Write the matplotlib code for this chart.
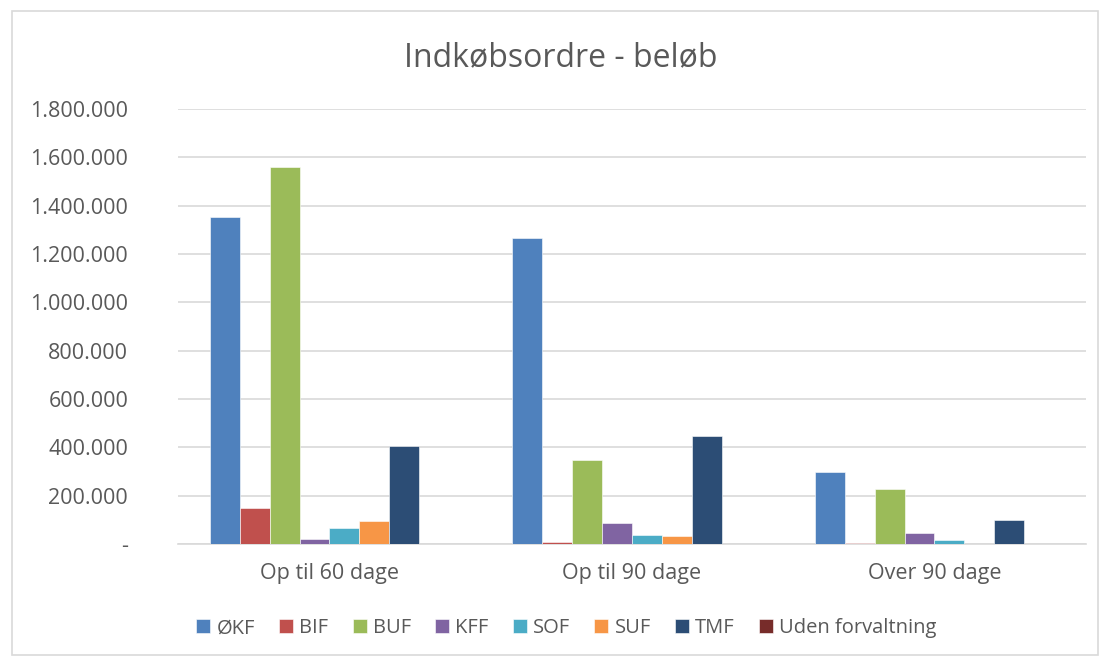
import numpy as np
import matplotlib.pyplot as plt
from matplotlib.ticker import FuncFormatter
from matplotlib.patches import Rectangle

plt.rcParams['font.family'] = ['Open Sans', 'DejaVu Sans']

categories = ['Op til 60 dage', 'Op til 90 dage', 'Over 90 dage']
series_names = ['ØKF', 'BIF', 'BUF', 'KFF', 'SOF', 'SUF', 'TMF', 'Uden forvaltning']
okf = [1353000, 1267000, 297000]
bif = [149000, 8000, 5000]
buf = [1561000, 348000, 225000]
kff = [21000, 88000, 44000]
sof = [66000, 37000, 17000]
suf = [95000, 34000, 0]
tmf = [406000, 446000, 98000]
uden = [0, 0, 0]
colors = ['#4F81BD', '#C0504D', '#9BBB59', '#8064A2', '#4BACC6', '#F79646', '#2C4D75', '#772C2A']

values = [okf, bif, buf, kff, sof, suf, tmf, uden]

fig = plt.figure(figsize=(11, 6.6), dpi=100)
ax = fig.add_axes([0.162, 0.176, 0.825, 0.659])

x = np.arange(len(categories))
n = len(series_names)
w = 0.099
for i, (name, vals) in enumerate(zip(series_names, values)):
    ax.bar(x + (i - (n - 1) / 2) * w, vals, width=w, color=colors[i],
           edgecolor='white', linewidth=0.4, label=name, zorder=3)

def dk_fmt(v, pos):
    if v == 0:
        return '-'
    return f'{int(v):,}'.replace(',', '.')

ax.set_ylim(0, 1800000)
ax.set_yticks(np.arange(0, 1800001, 200000))
ax.yaxis.set_major_formatter(FuncFormatter(dk_fmt))
ax.set_xlim(-0.5, 2.5)
ax.set_xticks(x)
ax.set_xticklabels(categories)
ax.grid(axis='y', color='#D9D9D9', linewidth=1.2, zorder=0)
for s in ['top', 'right', 'left']:
    ax.spines[s].set_visible(False)
ax.spines['bottom'].set_color('#D9D9D9')
ax.spines['bottom'].set_linewidth(1.2)
ax.tick_params(axis='both', length=0, labelsize=15.5, colors='#595959')
ax.tick_params(axis='y', pad=36)
ax.tick_params(axis='x', pad=14)

fig.text(0.51, 0.912, 'Indkøbsordre - beløb', ha='center', va='center',
         fontsize=23, color='#595959')

fig.legend(loc='center', bbox_to_anchor=(0.515, 0.048), ncol=n, frameon=False,
           fontsize=14.5, handlelength=0.7, handleheight=0.7, handletextpad=0.3,
           columnspacing=1.2, labelcolor='#595959')

fig.patches.append(Rectangle((0.011, 0.008), 0.987, 0.975, transform=fig.transFigure,
                             fill=False, edgecolor='#D9D9D9', linewidth=1.2))

fig.savefig('out.png', dpi=100)
